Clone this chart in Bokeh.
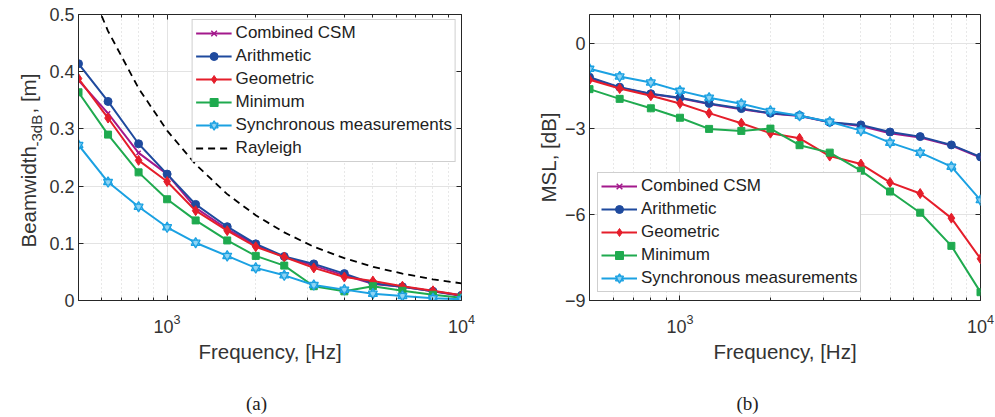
import math
from bokeh.plotting import figure
from bokeh.models import (LogAxis, LinearAxis, FixedTicker, Legend, LegendItem,
                          Label, Range1d)
from bokeh.layouts import row, column
from bokeh.embed import file_html
from bokeh.resources import INLINE

# ---------------- data ----------------
freq = [500, 630, 800, 1000, 1250, 1600, 2000, 2500, 3150, 4000, 5000, 6300, 8000, 10000]

bw_combined = [0.385, 0.327, 0.258, 0.221, 0.162, 0.125, 0.097, 0.076, 0.061, 0.044, 0.029, 0.024, 0.016, 0.008]
bw_arith    = [0.414, 0.348, 0.274, 0.221, 0.168, 0.129, 0.099, 0.077, 0.064, 0.047, 0.030, 0.024, 0.016, 0.009]
bw_geo      = [0.388, 0.319, 0.245, 0.208, 0.157, 0.122, 0.094, 0.076, 0.057, 0.041, 0.034, 0.025, 0.017, 0.009]
bw_min      = [0.364, 0.290, 0.224, 0.177, 0.140, 0.105, 0.078, 0.061, 0.025, 0.016, 0.025, 0.017, 0.010, 0.005]
bw_sync     = [0.272, 0.207, 0.164, 0.128, 0.101, 0.078, 0.057, 0.044, 0.027, 0.019, 0.012, 0.008, 0.004, 0.002]
bw_rayleigh = [0.594, 0.471, 0.371, 0.297, 0.238, 0.186, 0.149, 0.119, 0.094, 0.074, 0.059, 0.047, 0.037, 0.030]

msl_combined = [-1.22, -1.56, -1.78, -1.93, -2.13, -2.31, -2.46, -2.55, -2.77, -2.90, -3.15, -3.30, -3.58, -4.00]
msl_arith    = [-1.19, -1.54, -1.77, -1.91, -2.11, -2.29, -2.45, -2.53, -2.77, -2.86, -3.11, -3.27, -3.56, -3.98]
msl_geo      = [-1.28, -1.59, -1.84, -2.11, -2.45, -2.80, -3.15, -3.33, -3.95, -4.23, -4.87, -5.26, -6.12, -7.54]
msl_min      = [-1.61, -1.95, -2.28, -2.61, -3.00, -3.07, -2.99, -3.57, -3.83, -4.46, -5.19, -5.93, -7.09, -8.71]
msl_sync     = [-0.90, -1.17, -1.38, -1.67, -1.91, -2.12, -2.37, -2.54, -2.75, -3.06, -3.48, -3.83, -4.32, -5.49]

x_major = [1000, 10000]
x_minor = [600, 700, 800, 900, 2000, 3000, 4000, 5000, 6000, 7000, 8000, 9000]
bw_ticks = [0, 0.1, 0.2, 0.3, 0.4, 0.5]
msl_ticks = [-9, -6, -3, 0]

names = ["Combined CSM", "Arithmetic", "Geometric", "Minimum", "Synchronous measurements"]
colors = ["#A3198C", "#1F4A9E", "#E51E2B", "#1FAA4F", "#1BA1E2"]

SANS = "Liberation Sans"
SERIF = "Liberation Serif"
TXT = "#333333"
AX = "#262626"
H_MAIN = 385
TOP = 14
BOT = 300
YLAB_W = 46


def make_fig(width, left, right, yr, yticks):
    p = figure(width=width, height=H_MAIN, x_axis_type="log",
               x_range=Range1d(500, 10000), y_range=Range1d(*yr),
               output_backend="svg", toolbar_location=None,
               min_border_left=left, min_border_right=right,
               min_border_top=TOP, min_border_bottom=H_MAIN - BOT)
    p.outline_line_color = AX
    p.outline_line_width = 1
    xt = FixedTicker(ticks=x_major, minor_ticks=x_minor)
    xa = p.xaxis[0]
    ya = p.yaxis[0]
    xa.ticker = xt
    p.xgrid.ticker = xt
    ya.ticker = FixedTicker(ticks=yticks)
    for ax in (xa, ya):
        ax.axis_line_color = AX
        ax.major_tick_line_color = AX
        ax.minor_tick_line_color = AX
        ax.major_tick_in = 5
        ax.major_tick_out = 0
        ax.minor_tick_in = 3
        ax.minor_tick_out = 0
        ax.major_label_text_font = SANS
        ax.major_label_text_font_size = "18px"
        ax.major_label_text_color = TXT
        ax.axis_label_text_font = SANS
        ax.axis_label_text_font_size = "20.5px"
        ax.axis_label_text_font_style = "normal"
        ax.axis_label_text_color = TXT
    ya.minor_tick_line_color = None
    ya.major_label_standoff = 4
    xa.major_label_standoff = 13
    xa.axis_label = "Frequency, [Hz]"
    xa.axis_label_standoff = 4
    # box ticks on top and right
    top = LogAxis(ticker=xt, major_label_text_font_size="0px", major_label_text_color=None,
                  major_label_standoff=0, major_tick_in=5, major_tick_out=0,
                  minor_tick_in=3, minor_tick_out=0, axis_line_color=None,
                  major_tick_line_color=AX, minor_tick_line_color=AX)
    rgt = LinearAxis(ticker=FixedTicker(ticks=yticks), major_label_text_font_size="0px",
                     major_label_text_color=None, major_label_standoff=0,
                     major_tick_in=5, major_tick_out=0, minor_tick_line_color=None,
                     axis_line_color=None, major_tick_line_color=AX)
    p.add_layout(top, "above")
    p.add_layout(rgt, "right")
    p.xgrid.grid_line_color = "#e3e3e3"
    p.ygrid.grid_line_color = "#e3e3e3"
    p.xgrid.minor_grid_line_color = "#d0d0d0"
    p.xgrid.minor_grid_line_dash = "1 3"
    p.background_fill_color = "white"
    p.border_fill_color = "white"
    return p, xa, ya


def add_series(p, ys_list):
    items = []
    markers = ["x", "circle", "diamond", "square", None]
    sizes = [6, 8, 10, 7, 9]
    for name, ys, c, m, s in zip(names, ys_list, colors, markers, sizes):
        ln = p.line(freq, ys, line_color=c, line_width=2)
        rs = [ln]
        if m is None:
            r1 = p.scatter(freq, ys, marker="triangle", size=s, line_color=c,
                           fill_color="#8fd4f4", line_width=1.3)
            r2 = p.scatter(freq, ys, marker="inverted_triangle", size=s, line_color=c,
                           fill_color="#8fd4f4", fill_alpha=0.6, line_width=1.3)
            rs += [r1, r2]
        else:
            fc = c if m != "x" else None
            rs.append(p.scatter(freq, ys, marker=m, size=s, line_color=c,
                                fill_color=fc, line_width=1.5 if m == "x" else 1))
        items.append(LegendItem(label=name, renderers=rs))
    return items


def style_legend(items, location, margin):
    return Legend(items=items, location=location, margin=margin, padding=3,
                  spacing=3, label_height=20, glyph_height=20, glyph_width=36,
                  label_standoff=4, label_text_font=SANS, label_text_font_size="17px",
                  label_text_color="#222222", border_line_color="#a0a0a0",
                  border_line_width=1, background_fill_color="white",
                  background_fill_alpha=1.0)


def text_panel(width, height, top, bottom):
    # a blank panel whose data coordinates equal page pixels
    f = figure(width=width, height=height, x_range=Range1d(0, width),
               y_range=Range1d(bottom, top), output_backend="svg",
               toolbar_location=None, x_axis_location=None, y_axis_location=None,
               min_border_left=0, min_border_right=0,
               min_border_top=top, min_border_bottom=height - bottom)
    f.grid.visible = False
    f.outline_line_color = None
    f.background_fill_color = "white"
    f.border_fill_color = "white"
    return f


# ---------------- y label panel for (a) ----------------
ylab = text_panel(YLAB_W, H_MAIN, TOP, BOT)
lab_kw = dict(angle=math.pi / 2, text_font=SANS, text_color=TXT,
              text_align="left", text_baseline="alphabetic")
ylab.add_layout(Label(x=28, y=247, text="Beamwidth", text_font_size="20.5px", **lab_kw))
ylab.add_layout(Label(x=36, y=146, text="-3dB", text_font_size="15px", **lab_kw))
ylab.add_layout(Label(x=28, y=113, text=", [m]", text_font_size="20.5px", **lab_kw))

# ---------------- (a) beamwidth ----------------
p1, xa1, ya1 = make_fig(495 - YLAB_W, 78 - YLAB_W, 34, (0, 0.5), bw_ticks)
ya1.major_label_overrides = {0: "0"}
items1 = add_series(p1, [bw_combined, bw_arith, bw_geo, bw_min, bw_sync])
ray = p1.line(freq, bw_rayleigh, line_color="black", line_width=1.8, line_dash="7 5")
items1.append(LegendItem(label="Rayleigh", renderers=[ray]))
p1.add_layout(style_legend(items1, "top_right", 5))

# ---------------- (b) MSL ----------------
p2, xa2, ya2 = make_fig(500, 94, 15, (-9, 1), msl_ticks)
ya2.axis_label = "MSL, [dB]"
ya2.axis_label_standoff = 2
items2 = add_series(p2, [msl_combined, msl_arith, msl_geo, msl_min, msl_sync])
p2.add_layout(style_legend(items2, "bottom_left", 8))

# ---------------- captions ----------------
cap_h = 417 - H_MAIN
cap = figure(width=995, height=cap_h, x_range=Range1d(0, 995),
             y_range=Range1d(417, H_MAIN), output_backend="svg",
             toolbar_location=None, x_axis_location=None, y_axis_location=None,
             min_border=0)
cap.grid.visible = False
cap.outline_line_color = None
cap_kw = dict(text_font=SERIF, text_font_size="19px", text_color="#222222",
              text_align="center", text_baseline="middle")
cap.add_layout(Label(x=256, y=403, text="(a)", **cap_kw))
cap.add_layout(Label(x=747, y=403, text="(b)", **cap_kw))

layout = column(row(ylab, p1, p2, spacing=0), cap, spacing=0)
open("out.html", "w").write(file_html(layout, INLINE))
